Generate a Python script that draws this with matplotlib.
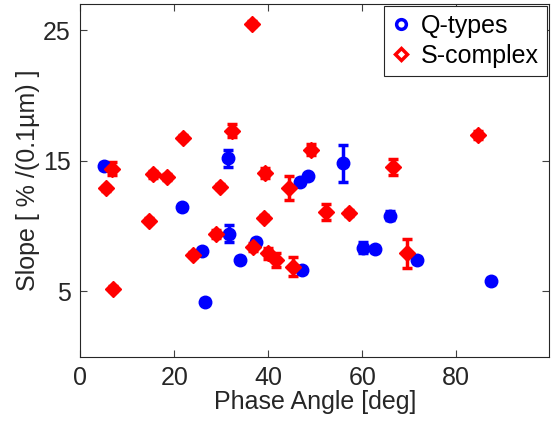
import matplotlib.pyplot as plt
from matplotlib.lines import Line2D

plt.rcParams['font.family'] = ['Liberation Sans', 'DejaVu Sans']

# Q-types
q_phase = [5.0, 21.7, 25.9, 26.5, 31.4, 31.6, 34.0, 37.4, 46.8, 47.1, 48.5, 56.0, 60.2, 62.8, 65.9, 71.7, 87.4]
q_slope = [14.6, 11.45, 8.1, 4.2, 15.2, 9.4, 7.4, 8.8, 13.4, 6.6, 13.8, 14.8, 8.35, 8.25, 10.8, 7.4, 5.8]
q_err = [0.2, 0.2, 0.2, 0.2, 0.65, 0.65, 0.2, 0.2, 0.2, 0.2, 0.2, 1.4, 0.45, 0.2, 0.35, 0.2, 0.2]

# S-complex
s_phase = [5.5, 6.7, 7.0, 14.7, 15.4, 18.5, 21.9, 24.0, 28.9, 29.7, 32.2, 36.5, 36.8, 39.1, 39.4,
           40.0, 41.6, 44.5, 45.3, 49.1, 52.3, 57.2, 66.6, 69.6, 84.7]
s_slope = [12.9, 14.4, 5.2, 10.4, 13.95, 13.75, 16.75, 7.8, 9.4, 13.0, 17.3, 25.5, 8.4, 10.65, 14.05,
           7.9, 7.4, 12.9, 6.9, 15.85, 11.1, 11.0, 14.5, 7.9, 17.0]
s_err = [0.2, 0.5, 0.2, 0.2, 0.3, 0.2, 0.2, 0.2, 0.3, 0.2, 0.5, 0.2, 0.3, 0.2, 0.4,
         0.4, 0.5, 0.9, 0.7, 0.4, 0.6, 0.2, 0.6, 1.1, 0.3]

fig = plt.figure(figsize=(5.53, 4.28), dpi=100)
ax = fig.add_axes([0.145, 0.1666, 0.8483, 0.8241])

ax.errorbar(q_phase, q_slope, yerr=q_err, fmt='o', color='#0000ff', ms=9, mec='#0000ff',
            elinewidth=2.5, capsize=3.5, capthick=2.5, zorder=3)
ax.errorbar(s_phase, s_slope, yerr=s_err, fmt='D', color='#ff0000', ms=8, mec='#ff0000',
            elinewidth=2.5, capsize=3.5, capthick=2.5, zorder=3)

ax.set_xlim(0, 99.8)
ax.set_ylim(0, 27)
ax.set_xticks([0, 20, 40, 60, 80])
ax.set_yticks([5, 15, 25])
ax.tick_params(direction='in', top=True, right=True, labelsize=18, length=5, width=0.8,
               colors='#404040', labelcolor='#262626', pad=7)
for sp in ax.spines.values():
    sp.set_color('#262626')
    sp.set_linewidth(0.8)

ax.set_xlabel('Phase Angle [deg]', fontsize=18, color='#262626', labelpad=0)
ax.set_ylabel('Slope [ % /(0.1µm) ]', fontsize=18, color='#262626', labelpad=2)

handles = [Line2D([], [], ls='none', marker='o', mfc='none', mec='#0000ff', mew=2.5, ms=7),
           Line2D([], [], ls='none', marker='D', mfc='none', mec='#ff0000', mew=2.5, ms=6)]
leg = ax.legend(handles, ['Q-types', 'S-complex'], loc='upper right', fontsize=18,
                fancybox=False, edgecolor='#262626', framealpha=1, borderaxespad=0.1,
                handlelength=0.8, handletextpad=0.4, borderpad=0.3, labelspacing=0.25)
leg.get_frame().set_linewidth(0.8)

fig.savefig('out.png', dpi=100)
